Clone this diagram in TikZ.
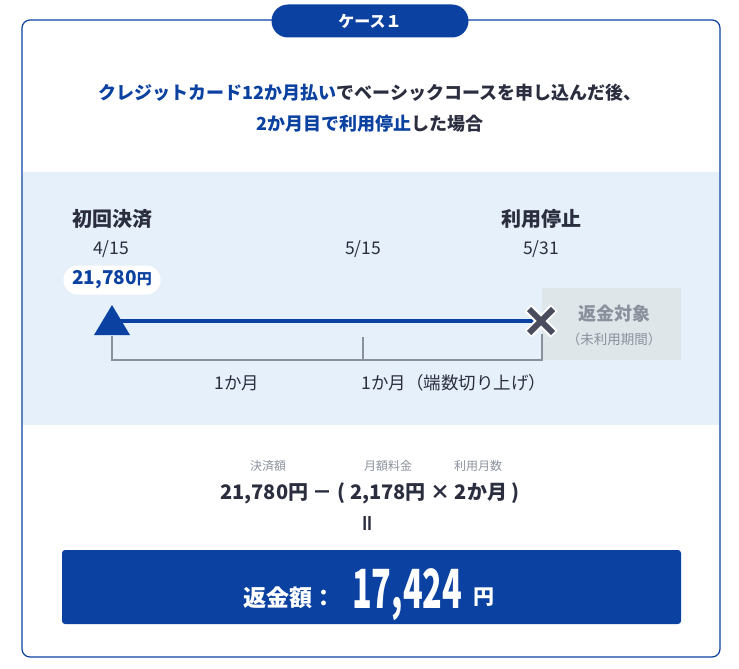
\documentclass[tikz,border=0pt]{standalone}
\usepackage{fontspec}
\setmainfont{Noto Sans CJK JP}
\usetikzlibrary{positioning}

\definecolor{brandblue}{HTML}{0B41A0}
\definecolor{inkdark}{HTML}{2B2E3F}
\definecolor{bandblue}{HTML}{E6F0FA}
\definecolor{boxgray}{HTML}{DFE6EA}
\definecolor{mutegray}{HTML}{8A909C}
\definecolor{xdark}{HTML}{4A4B5C}

\tikzset{
  heading/.style={inner sep=0pt, text=inkdark, font=\bfseries\fontsize{18}{21}\selectfont},
  tab/.style={fill=brandblue, rounded corners=16.5pt, minimum width=197pt, minimum height=33pt,
    text=white, font=\bfseries\fontsize{16}{18}\selectfont},
  stamp/.style={inner sep=0pt, text=inkdark, font=\bfseries\fontsize{20}{23}\selectfont},
  datetext/.style={inner sep=0pt, text=inkdark, font=\fontsize{17.5}{20}\selectfont},
  pill/.style={fill=white, rounded corners=14pt, minimum width=97pt, minimum height=29pt,
    text=brandblue, font=\bfseries\fontsize{19}{21}\selectfont},
  refundbox/.style={fill=boxgray, minimum width=139pt, minimum height=72pt},
  track/.style={brandblue, line width=4pt},
  bracket/.style={mutegray, line width=1.8pt},
  mute/.style={inner sep=0pt, text=mutegray},
  formula/.style={inner sep=0pt, text=inkdark, font=\bfseries\fontsize{20}{22}\selectfont},
  caption/.style={inner sep=0pt, text=mutegray, font=\fontsize{12}{14}\selectfont},
  total/.style={fill=brandblue, rounded corners=3pt, minimum width=619pt, minimum height=74pt},
}

\begin{document}
\begin{tikzpicture}[x=1pt,y=-1pt]
	\useasboundingbox (0,0) rectangle (739,669);

	% frame and band
	\fill[bandblue] (23,172) rectangle (719,425);
	\draw[brandblue, line width=1.2pt, rounded corners=8pt] (22,20) rectangle (720,657);
	\node[tab] (tab) at (370,21) {ケース１};

	% heading
	\node[heading] (lineA) at (370,93) {\textcolor{brandblue}{クレジットカード12か月払い}でベーシックコースを申し込んだ後、};
	\node[heading] (lineB) at (370,124) {\textcolor{brandblue}{2か月目で利用停止}した場合};

	% timeline
	\node[stamp] (first) at (112,219) {初回決済};
	\node[datetext] (d1) at (111,249) {4/15};
	\node[pill] (price) at (112,280) {21,780{\fontsize{15}{17}\selectfont 円}};
	\node[datetext] (d2) at (363,249) {5/15};
	\node[stamp] (stop) at (541,219) {利用停止};
	\node[datetext] (d3) at (541,249) {5/31};

	\node[refundbox] (rbox) at (611.5,324) {};
	\node[mute, font=\bfseries\fontsize{18}{20}\selectfont] (rlabel) at (614,314) {返金対象};
	\node[mute, font=\fontsize{13.5}{15}\selectfont] (rnote) at (614,339) {（未利用期間）};

	\coordinate (tri) at (112,321);
	\coordinate (xmark) at (541,321);
	\draw[track] (tri) -- (xmark);
	\fill[brandblue] (112,305) -- (130,335) -- (94,335) -- cycle;

	\draw[white, line width=10pt] ([shift={(-13,-13)}]xmark) -- ([shift={(13,13)}]xmark);
	\draw[white, line width=10pt] ([shift={(-13,13)}]xmark) -- ([shift={(13,-13)}]xmark);
	\draw[xdark, line width=6pt] ([shift={(-12,-12)}]xmark) -- ([shift={(12,12)}]xmark);
	\draw[xdark, line width=6pt] ([shift={(-12,12)}]xmark) -- ([shift={(12,-12)}]xmark);

	\coordinate (brL) at (112,336);
	\coordinate (brM) at (363,337);
	\coordinate (brR) at (542,334);
	\draw[bracket] (brL) -- ++(0,24) -| (brR);
	\draw[bracket] (brM) -- ++(0,23);

	\node[datetext] (m1) at (237,383) {1か月};
	\node[datetext] (m2) at (454,383) {1か月（端数切り上げ）};

	% calculation
	\node[caption] (c1) at (268,466) {決済額};
	\node[caption] (c2) at (388,466) {月額料金};
	\node[caption] (c3) at (478,466) {利用月数};
	\node[formula] (calc) at (370,493) {21,780円 － ( 2,178円 × 2か月 )};
	\node[formula] (eq) at (370,523) {\rotatebox{90}{＝}};

	\node[total] (tbox) at (371.5,587) {};
	\node[inner sep=0pt, anchor=base, text=white, font=\bfseries\fontsize{23}{26}\selectfont] (rlab) at (289,606) {返金額：};
	\node[inner sep=0pt, anchor=base west, text=white, font=\bfseries\fontsize{54}{56}\selectfont] (rsum) at (352,608) {\scalebox{0.6}[1]{17,424}};
	\node[inner sep=0pt, anchor=base west, text=white, font=\bfseries\fontsize{21}{23}\selectfont] (ryen) at (473,604) {円};
\end{tikzpicture}
\end{document}
